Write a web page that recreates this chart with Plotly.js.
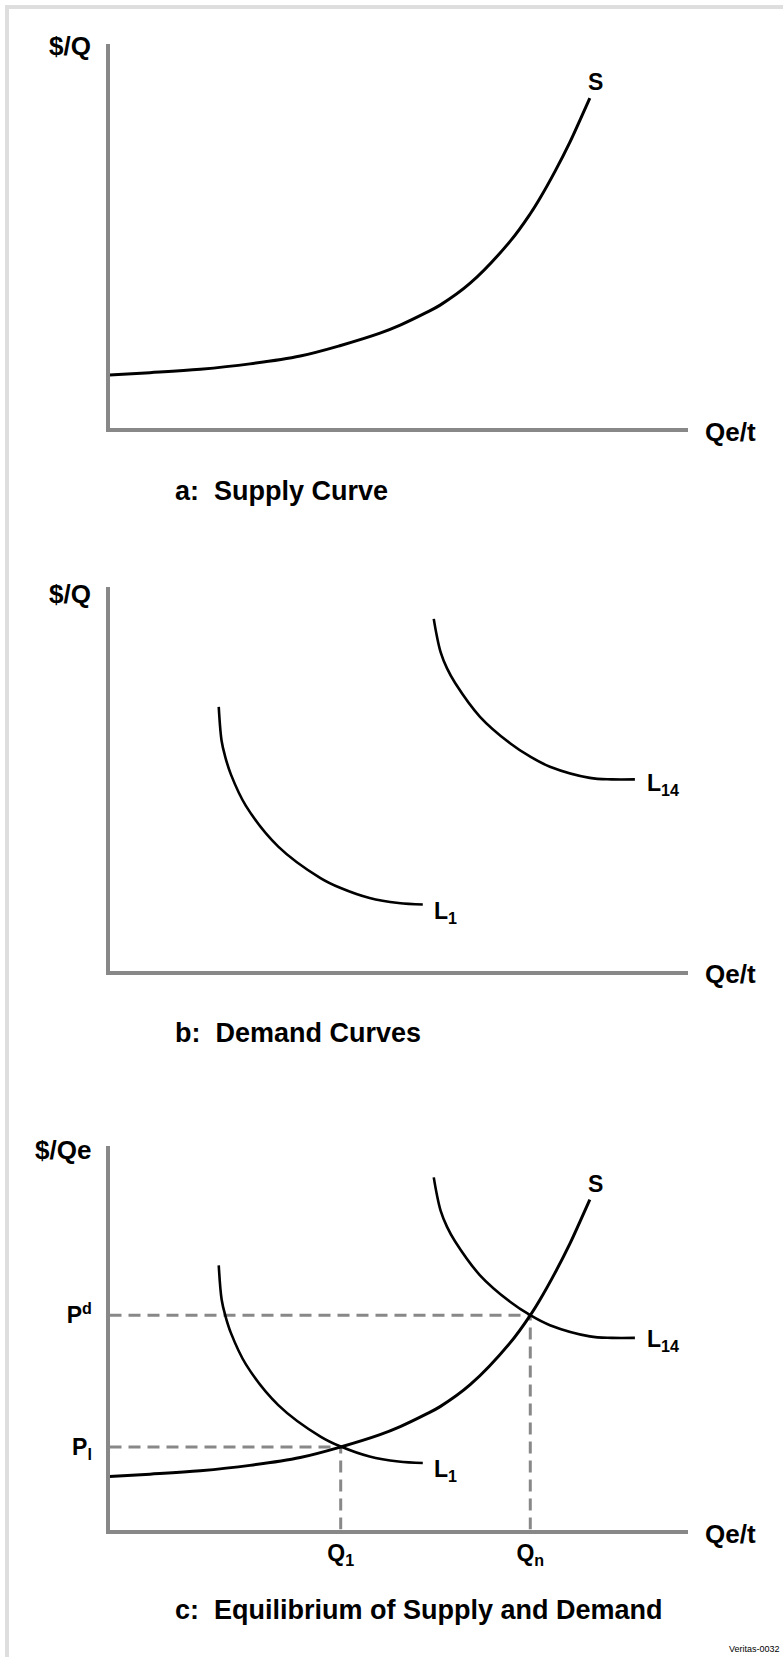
<!DOCTYPE html>
<html>
<head>
<meta charset="utf-8">
<script src="https://cdn.plot.ly/plotly-3.0.1.min.js"></script>
<style>
html, body { margin: 0; padding: 0; background: #ffffff; }
#chart { width: 783px; height: 1657px; }
</style>
</head>
<body>
<div id="chart"></div>
<script>
// ---------- DATA ----------
// Supply curve S (quantity, price)
const supplyQ = [0, 0.7, 1.57, 2.43, 3.3, 4.0, 4.68, 5.03, 5.46, 5.72, 6.24, 6.93, 7.28, 7.45, 7.71, 7.97, 8.14, 8.31];
const supplyP = [1.38, 1.44, 1.53, 1.67, 1.875, 2.15, 2.47, 2.68, 2.99, 3.2, 3.77, 4.86, 5.58, 5.99, 6.69, 7.46, 8.02, 8.59];
// Demand curve L1
const l1Q = [1.89, 1.94, 2.0, 2.1, 2.36, 2.92, 3.65, 4.0, 4.5, 5.0, 5.42];
const l1P = [6.88, 5.99, 5.59, 5.12, 4.3, 3.24, 2.42, 2.16, 1.9, 1.77, 1.73];
// Demand curve L14
const l14Q = [5.61, 5.66, 5.73, 5.84, 5.98, 6.41, 6.93, 7.28, 7.62, 8.31, 8.69, 9.09];
const l14P = [9.17, 8.75, 8.3, 7.88, 7.5, 6.62, 5.93, 5.58, 5.32, 5.03, 4.99, 4.99];
// Equilibrium quantities and prices
const eqQ = [4.0, 7.28];
const eqP = [2.15, 5.58];
const eqQLabels = ['Q<sub>1</sub>', 'Q<sub>n</sub>'];
const eqPLabels = ['P<sub>l</sub>', 'P<sup>d</sup>'];
// Text
const curveNames = ['S', 'L<sub>1</sub>', 'L<sub>14</sub>'];
const panelTitles = ['a:\u00a0 Supply Curve', 'b:\u00a0 Demand Curves', 'c:\u00a0 Equilibrium of Supply and Demand'];
const yAxisTitles = ['$/Q', '$/Q', '$/Qe'];
const xAxisTitle = 'Qe/t';
const sourceNote = 'Veritas-0032';

// ---------- LAYOUT HELPERS ----------
const W = 783, H = 1657;
const px = v => v / W;
const py = v => 1 - v / H;
const FONT = 'Liberation Sans, Arial, Helvetica, sans-serif';
const AXIS_GRAY = '#888888';
const plotLeft = 109.5, plotRight = 687.5;
const panels = [
  {top: 44, bottom: 428, yTitleX: 70, yTitleY: 46, xTitleY: 432.5, titleY: 491},
  {top: 587, bottom: 971, yTitleX: 70, yTitleY: 594, xTitleY: 974, titleY: 1033},
  {top: 1145.5, bottom: 1529.5, yTitleX: 62.5, yTitleY: 1150, xTitleY: 1534, titleY: 1610}
];

const axisBase = {
  range: [0, 10], showgrid: false, zeroline: false, showline: true,
  linecolor: AXIS_GRAY, linewidth: 4, ticks: '', showticklabels: false, fixedrange: true
};

const S_STYLE = {color: '#000000', width: 3, shape: 'spline', smoothing: 1};
const L_STYLE = {color: '#000000', width: 2.6, shape: 'spline', smoothing: 1};
const DASH = {color: AXIS_GRAY, width: 3, dash: '12px,7px'};

const traces = [];
// Panel a
traces.push({x: supplyQ, y: supplyP, xaxis: 'x', yaxis: 'y', mode: 'lines', line: S_STYLE, hoverinfo: 'skip'});
// Panel b
traces.push({x: l1Q, y: l1P, xaxis: 'x2', yaxis: 'y2', mode: 'lines', line: L_STYLE, hoverinfo: 'skip'});
traces.push({x: l14Q, y: l14P, xaxis: 'x2', yaxis: 'y2', mode: 'lines', line: L_STYLE, hoverinfo: 'skip'});
// Panel c: guide lines
for (let i = 0; i < eqQ.length; i++) {
  traces.push({x: [0, eqQ[i]], y: [eqP[i], eqP[i]], xaxis: 'x3', yaxis: 'y3', mode: 'lines', line: DASH, hoverinfo: 'skip'});
  traces.push({x: [eqQ[i], eqQ[i]], y: [0, eqP[i]], xaxis: 'x3', yaxis: 'y3', mode: 'lines', line: DASH, hoverinfo: 'skip'});
}
traces.push({x: l1Q, y: l1P, xaxis: 'x3', yaxis: 'y3', mode: 'lines', line: L_STYLE, hoverinfo: 'skip'});
traces.push({x: l14Q, y: l14P, xaxis: 'x3', yaxis: 'y3', mode: 'lines', line: L_STYLE, hoverinfo: 'skip'});
traces.push({x: supplyQ, y: supplyP, xaxis: 'x3', yaxis: 'y3', mode: 'lines', line: S_STYLE, hoverinfo: 'skip'});

const layout = {
  width: W, height: H,
  margin: {l: 0, r: 0, t: 0, b: 0},
  paper_bgcolor: '#ffffff', plot_bgcolor: '#ffffff',
  showlegend: false,
  font: {family: FONT, color: '#000000'},
  shapes: [{
    type: 'rect', xref: 'paper', yref: 'paper', layer: 'below',
    x0: px(7), x1: px(W + 20), y0: py(H + 20), y1: py(7),
    line: {color: '#dedede', width: 4}, fillcolor: 'rgba(0,0,0,0)'
  }],
  annotations: []
};

const axIds = [['xaxis', 'yaxis', 'x', 'y'], ['xaxis2', 'yaxis2', 'x2', 'y2'], ['xaxis3', 'yaxis3', 'x3', 'y3']];
panels.forEach((p, i) => {
  const [xa, ya, xr, yr] = axIds[i];
  layout[xa] = Object.assign({}, axisBase, {domain: [px(plotLeft), px(plotRight)], anchor: yr});
  layout[ya] = Object.assign({}, axisBase, {domain: [py(p.bottom), py(p.top)], anchor: xr});
  layout.annotations.push({
    xref: 'paper', yref: 'paper', x: px(p.yTitleX), y: py(p.yTitleY), xanchor: 'center', yanchor: 'middle',
    text: '<b>' + yAxisTitles[i] + '</b>', showarrow: false, borderpad: 0, font: {size: 26, family: FONT}
  });
  layout.annotations.push({
    xref: 'paper', yref: 'paper', x: px(730), y: py(p.xTitleY), xanchor: 'center', yanchor: 'middle',
    text: '<b>' + xAxisTitle + '</b>', showarrow: false, borderpad: 0, font: {size: 26, family: FONT}
  });
  layout.annotations.push({
    xref: 'paper', yref: 'paper', x: px(174), y: py(p.titleY), xanchor: 'left', yanchor: 'middle',
    text: '<b>' + panelTitles[i] + '</b>', showarrow: false, borderpad: 0, font: {size: 27, family: FONT}
  });
});

// tick labels on panel c
Object.assign(layout.xaxis3, {showticklabels: true, tickvals: eqQ, ticktext: eqQLabels.map(t => '<b>' + t + '</b>'), tickfont: {size: 23, family: FONT, color: '#000'}});
Object.assign(layout.yaxis3, {showticklabels: true, tickvals: eqP, ticktext: eqPLabels.map(t => '<b>' + t + '</b>'), ticklabelstandoff: 9, tickfont: {size: 23, family: FONT, color: '#000'}});

// curve labels
function curveLabel(xr, yr, xs, ys, name, anchor, dx, dy) {
  layout.annotations.push({
    xref: xr, yref: yr, x: xs[xs.length - 1], y: ys[ys.length - 1], xanchor: anchor, yanchor: 'middle',
    xshift: dx, yshift: dy, text: '<b>' + name + '</b>', showarrow: false, borderpad: 0, font: {size: 23, family: FONT}
  });
}
curveLabel('x', 'y', supplyQ, supplyP, curveNames[0], 'center', 6, 16);
curveLabel('x2', 'y2', l1Q, l1P, curveNames[1], 'left', 10, -8);
curveLabel('x2', 'y2', l14Q, l14P, curveNames[2], 'left', 11, -5);
curveLabel('x3', 'y3', supplyQ, supplyP, curveNames[0], 'center', 6, 16);
curveLabel('x3', 'y3', l1Q, l1P, curveNames[1], 'left', 10, -7);
curveLabel('x3', 'y3', l14Q, l14P, curveNames[2], 'left', 11, -3);

layout.annotations.push({
  xref: 'paper', yref: 'paper', x: px(781), y: py(1649), xanchor: 'right', yanchor: 'middle',
  text: sourceNote, showarrow: false, borderpad: 0,
  font: {size: 9, family: 'Liberation Sans Narrow, Liberation Sans, Arial, sans-serif', color: '#000'}
});

Plotly.newPlot('chart', traces, layout, {staticPlot: true, displayModeBar: false});
</script>
</body>
</html>
